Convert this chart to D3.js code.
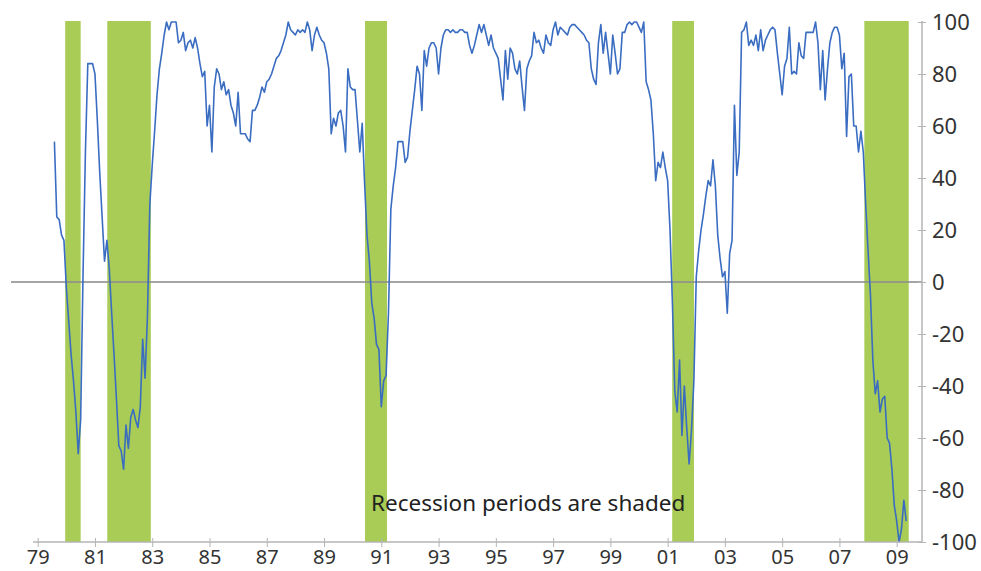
<!DOCTYPE html>
<html>
<head>
<meta charset="utf-8">
<script src="https://cdn.jsdelivr.net/npm/d3@7"></script>
<style>
  html, body { margin: 0; padding: 0; background: #fff; }
  svg { display: block; }
  .tick text { font-family: "Noto Sans", "Open Sans", sans-serif; fill: #333; }
</style>
</head>
<body>
<div id="chart"></div>
<script>
// monthly index, starting Aug 1979 (one row per calendar year)
const firstMonth = { year: 1979, month: 8 };
const values70s80s = [
  54, 25, 24, 18, 16,                                   // 1979 Aug-Dec
  -2, -15, -28, -38, -50, -66, -53, 3, 50, 84, 84, 84,  // 1980
  80, 62, 42, 25, 8, 16, 5, -12, -28, -45, -63, -65,    // 1981
  -72, -55, -64, -52, -49, -53, -56, -48, -22, -37, -13, 30, // 1982
  45, 58, 72, 82, 88, 95, 100, 97, 100, 100, 100, 92,   // 1983
  93, 96, 89, 92, 93, 90, 94, 90, 84, 79, 81, 60,       // 1984
  68, 50, 75, 82, 80, 74, 77, 72, 74, 68, 65, 60,       // 1985
  73, 57, 57, 57, 55, 54, 66, 66, 68, 71, 75, 73,       // 1986
  77, 78, 80, 83, 86, 87, 89, 92, 95, 100, 97, 96,      // 1987
  95, 97, 96, 97, 96, 100, 97, 89, 95, 98, 95, 93,      // 1988
  92, 88, 82, 57, 63, 60, 65, 66, 60, 50, 82, 75        // 1989
];
const values90s = [
  74, 74, 62, 50, 61, 38, 18, 8, -8, -14, -24, -26,     // 1990
  -48, -38, -36, -12, 28, 37, 44, 54, 54, 54, 46, 48,   // 1991
  58, 66, 74, 83, 80, 66, 89, 83, 90, 92, 92, 90,       // 1992
  80, 90, 95, 97, 97, 96, 97, 96, 96, 97, 97, 96,       // 1993
  96, 91, 88, 91, 95, 99, 96, 99, 95, 91, 95, 90,       // 1994
  88, 86, 78, 70, 89, 78, 90, 88, 82, 80, 85, 75,       // 1995
  66, 82, 85, 87, 96, 92, 93, 90, 88, 95, 92, 91,       // 1996
  97, 100, 95, 98, 97, 96, 95, 98, 99, 99, 98, 97,      // 1997
  96, 95, 93, 92, 82, 78, 76, 92, 99, 88, 96, 88,       // 1998
  80, 95, 88, 80, 82, 96, 96, 99, 100, 99, 100, 100     // 1999
];
const values00s = [
  98, 96, 100, 77, 74, 70, 57, 39, 46, 44, 50, 44,      // 2000
  39, 20, -8, -42, -50, -30, -59, -40, -56, -70, -57, -38, // 2001
  2, 12, 20, 26, 33, 39, 37, 47, 37, 18, 9, 2,          // 2002
  4, -12, 11, 16, 68, 41, 50, 96, 97, 100, 91, 93,      // 2003
  91, 95, 89, 97, 89, 93, 95, 97, 98, 97, 88, 80,       // 2004
  72, 83, 86, 98, 80, 81, 80, 92, 87, 86, 96, 96,       // 2005
  96, 96, 100, 92, 74, 89, 70, 82, 92, 96, 98, 98,      // 2006
  95, 82, 88, 56, 79, 80, 60, 60, 50, 58, 50, 30,       // 2007
  12, -5, -30, -43, -38, -50, -45, -44, -60, -62, -72, -86, // 2008
  -92, -100, -95, -84, -92                              // 2009 Jan-May
];

// recession periods (fractional years)
const recessionStart = [1979.96, 1981.43, 1990.43, 2001.16, 2007.87];
const recessionEnd   = [1980.50, 1982.95, 1991.20, 2001.92, 2009.42];

const xTickYears  = [1979, 1981, 1983, 1985, 1987, 1989, 1991, 1993, 1995, 1997, 1999, 2001, 2003, 2005, 2007, 2009];
const xTickLabels = ["79", "81", "83", "85", "87", "89", "91", "93", "95", "97", "99", "01", "03", "05", "07", "09"];
const yTicks = [100, 80, 60, 40, 20, 0, -20, -40, -60, -80, -100];

const note = "Recession periods are shaded";

// ---- setup
const W = 981, H = 571;
const axisX = 922;

const series = values70s80s.concat(values90s, values00s).map((v, i) => ({
  t: firstMonth.year + (firstMonth.month - 1 + i) / 12,
  v: v
}));

const x = d3.scaleLinear().domain([1979, 2009]).range([37.7, 896.7]);
const y = d3.scaleLinear().domain([-100, 100]).range([542, 22]);

const svg = d3.select('#chart').append('svg')
  .attr('width', W)
  .attr('height', H);

// recession bands
svg.append('g').attr('class', 'bands')
  .selectAll('rect')
  .data(recessionStart.map((s, i) => ({ s: s, e: recessionEnd[i] })))
  .enter().append('rect')
  .attr('x', d => x(d.s))
  .attr('width', d => x(d.e) - x(d.s))
  .attr('y', y(100) - 1)
  .attr('height', y(-100) - y(100) + 1)
  .attr('fill', '#a8cc55');

// zero line
svg.append('line')
  .attr('x1', 11).attr('x2', axisX)
  .attr('y1', y(0)).attr('y2', y(0))
  .attr('stroke', '#8f8f8f')
  .attr('stroke-opacity', 0.8)
  .attr('stroke-width', 2);

// series line
const line = d3.line().x(d => x(d.t)).y(d => y(d.v));
svg.append('path')
  .datum(series)
  .attr('d', line)
  .attr('fill', 'none')
  .attr('stroke', '#3a6dc1')
  .attr('stroke-width', 1.6)
  .attr('stroke-linejoin', 'round');

// x axis
const gx = svg.append('g')
  .attr('transform', `translate(0,${y(-100)})`)
  .call(d3.axisBottom(x).tickValues(xTickYears)
    .tickFormat((d, i) => xTickLabels[i]).tickSize(5));
gx.select('.domain').remove();
gx.append('line')
  .attr('x1', 33).attr('x2', axisX)
  .attr('stroke', '#b5b5b5').attr('stroke-width', 1.5);
gx.selectAll('.tick line').attr('y1', -4).attr('stroke', '#b5b5b5');
gx.selectAll('.tick text')
  .attr('y', 22).attr('dy', 0)
  .attr('font-size', 20).attr('fill', '#333');

// y axis (right)
const gy = svg.append('g')
  .attr('transform', `translate(${axisX},0)`)
  .call(d3.axisRight(y).tickValues(yTicks)
    .tickFormat(d => String(d)).tickSize(4).tickPadding(6));
gy.select('.domain').remove();
gy.append('line')
  .attr('y1', y(100) - 1).attr('y2', y(-100))
  .attr('stroke', '#b5b5b5').attr('stroke-width', 1.5);
gy.selectAll('.tick line').attr('x1', -4).attr('stroke', '#b5b5b5');
gy.selectAll('.tick text').attr('font-size', 22).attr('fill', '#333');

// note
svg.append('text')
  .attr('x', 371)
  .attr('y', 511)
  .attr('font-family', '"Noto Sans", "Open Sans", sans-serif')
  .attr('font-size', 22.5)
  .attr('fill', '#222')
  .text(note);
</script>
</body>
</html>
